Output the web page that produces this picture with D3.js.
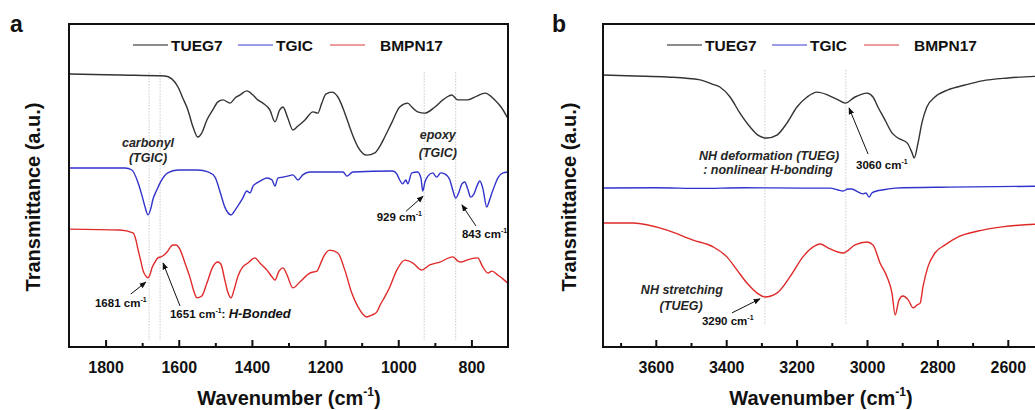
<!DOCTYPE html>
<html><head><meta charset="utf-8">
<script src="https://cdn.jsdelivr.net/npm/d3@7"></script>
<style>
body{margin:0;background:#fff;}
svg{display:block;font-family:"Liberation Sans",Arial,sans-serif;}
</style></head>
<body><svg id="c" width="1035" height="410"></svg>
<script>
// ---------- DATA ----------
const seriesNames = ["TUEG7", "TGIC", "BMPN17"];
const ticksA = [1800, 1600, 1400, 1200, 1000, 800];
const minorA = [1700, 1500, 1300, 1100, 900];
const ticksB = [3600, 3400, 3200, 3000, 2800, 2600];
const minorB = [3700, 3500, 3300, 3100, 2900, 2700];
const refLinesA = [1681, 1651, 929, 843];
const refLinesB = [3290, 3060];

// Panel a: [wavenumber, transmittance (a.u.)]
const tueg7A = [[1900,84.5],[1761,84.2],[1638,83.9],[1619,83.0],[1602,80.5],[1589,77.1],[1575,73.4],[1561,68.1],[1548,65.0],[1537,66.3],[1523,70.3],[1507,73.4],[1493,75.9],[1479,76.5],[1460,75.5],[1446,77.1],[1433,78.0],[1414,79.3],[1397,78.0],[1384,76.5],[1370,75.5],[1351,73.4],[1337,69.7],[1324,73.4],[1315,74.3],[1302,70.9],[1288,67.2],[1274,68.4],[1255,70.3],[1233,72.8],[1220,72.4],[1209,75.5],[1198,78.3],[1181,78.9],[1165,77.4],[1146,72.4],[1127,66.3],[1110,61.9],[1086,59.4],[1064,60.1],[1050,62.2],[1037,65.0],[1018,69.4],[996,74.3],[974,75.5],[963,74.3],[947,72.8],[927,72.4],[900,74.3],[878,76.5],[867,77.4],[854,78.0],[837,76.5],[810,76.5],[785,77.7],[763,78.6],[736,76.5],[717,74.0],[701,70.9]];
const tgicA = [[1900,55.4],[1747,55.4],[1728,54.8],[1711,50.8],[1701,47.1],[1692,43.3],[1684,40.9],[1676,43.0],[1671,45.5],[1660,48.6],[1651,50.8],[1630,53.9],[1602,54.8],[1548,54.8],[1520,54.2],[1501,52.6],[1487,48.0],[1474,43.3],[1457,40.9],[1446,42.4],[1433,44.6],[1425,46.1],[1414,48.3],[1405,47.7],[1397,49.8],[1386,50.8],[1373,51.7],[1359,52.3],[1345,51.7],[1337,49.8],[1329,52.3],[1315,52.6],[1302,52.9],[1288,53.3],[1274,51.7],[1261,53.3],[1242,54.2],[1151,54.2],[1140,52.9],[1124,54.2],[1015,54.5],[1004,53.6],[996,51.7],[988,50.5],[979,51.7],[974,50.5],[963,53.9],[947,54.2],[938,52.3],[933,48.3],[927,51.1],[919,52.9],[906,53.9],[895,52.6],[884,53.9],[873,53.6],[859,51.7],[851,48.6],[843,46.1],[834,48.0],[826,50.5],[818,51.1],[810,48.9],[802,46.4],[793,47.4],[785,49.8],[777,51.4],[769,49.2],[758,43.3],[753,44.6],[747,46.7],[739,49.2],[728,52.3],[714,53.9],[701,54.2]];
const bmpn17A = [[1900,36.5],[1761,36.2],[1725,35.3],[1717,33.1],[1711,30.0],[1703,26.3],[1698,23.8],[1690,22.0],[1684,21.4],[1679,22.3],[1673,24.5],[1665,26.3],[1657,27.6],[1649,27.9],[1640,28.5],[1632,29.4],[1616,31.6],[1607,31.6],[1597,30.3],[1583,26.0],[1569,21.4],[1558,17.0],[1550,15.2],[1537,15.8],[1523,19.8],[1507,24.8],[1493,26.3],[1485,25.7],[1474,20.7],[1466,17.0],[1457,15.2],[1449,17.6],[1438,22.0],[1425,24.8],[1411,26.0],[1392,27.6],[1378,26.0],[1359,23.8],[1345,21.7],[1337,20.7],[1326,23.5],[1315,24.5],[1304,22.3],[1288,18.3],[1269,20.1],[1242,22.9],[1222,23.5],[1214,25.4],[1203,28.2],[1187,30.0],[1165,29.1],[1146,23.8],[1127,16.7],[1110,12.4],[1086,9.3],[1072,9.9],[1059,10.8],[1048,13.3],[1037,15.5],[1023,18.6],[1004,23.8],[982,26.9],[960,26.0],[936,23.8],[914,25.4],[886,26.3],[851,27.9],[837,26.6],[826,26.3],[813,26.9],[783,27.6],[769,24.8],[755,22.9],[744,23.5],[728,22.3],[714,21.1],[701,19.8]];

// Panel b
const tueg7B = [[3750,84.2],[3659,83.9],[3568,83.6],[3474,82.7],[3440,81.4],[3418,80.5],[3389,77.4],[3361,72.4],[3332,68.1],[3310,65.6],[3284,64.7],[3256,65.6],[3227,69.4],[3199,74.3],[3170,77.4],[3142,78.9],[3111,78.0],[3082,76.5],[3062,75.5],[3034,77.4],[3000,78.6],[2983,77.4],[2969,74.3],[2949,70.3],[2929,66.3],[2912,64.7],[2886,63.2],[2872,60.1],[2866,58.5],[2855,63.2],[2844,69.4],[2830,74.3],[2807,77.4],[2770,79.6],[2722,81.1],[2673,82.4],[2599,83.3],[2500,83.9]];
const tgicB = [[3750,49.2],[3600,49.3],[3474,49.1],[3350,49.3],[3190,49.2],[3105,49.2],[3082,48.6],[3068,48.3],[3054,48.9],[3043,48.9],[3026,48.0],[3011,47.4],[3003,47.7],[2994,46.4],[2986,47.7],[2972,48.3],[2957,48.6],[2920,49.2],[2764,49.5],[2500,49.8]];
const bmpn17B = [[3750,38.4],[3665,38.4],[3568,36.2],[3494,33.1],[3437,31.0],[3398,27.9],[3369,23.8],[3341,19.8],[3312,16.7],[3290,15.5],[3256,16.7],[3219,21.7],[3182,27.9],[3153,31.0],[3133,31.9],[3111,30.7],[3068,29.1],[3034,31.6],[3000,32.5],[2983,31.6],[2963,26.0],[2943,21.7],[2929,16.7],[2920,9.9],[2909,14.6],[2898,15.8],[2883,14.6],[2869,12.1],[2858,13.0],[2849,13.6],[2841,18.6],[2827,24.8],[2807,29.1],[2778,31.6],[2741,34.1],[2685,35.9],[2616,37.2],[2500,38.1]];

// ---------- LAYOUT ----------
const svg = d3.select("#c");
svg.append("rect").attr("width",1035).attr("height",410).attr("fill","#fff");
const colors = ["#333333", "#3333cc", "#e02a2a"];
const legendColors = ["#666666", "#7a7ae0", "#e87a7a"];
const y = d3.scaleLinear().domain([0,100]).range([347,24]);

svg.append("defs").append("marker").attr("id","ah")
  .attr("viewBox","0 0 10 10").attr("refX",9).attr("refY",5)
  .attr("markerWidth",7).attr("markerHeight",7).attr("orient","auto-start-reverse")
  .append("path").attr("d","M0,1 L10,5 L0,9 Z").attr("fill","#111");

function panel(opt){
  const x = d3.scaleLinear().domain(opt.domain).range(opt.range);
  const g = svg.append("g");
  const [x0,x1] = opt.range;
  opt.refs.forEach(r=>{
    g.append("line").attr("x1",x(r)).attr("x2",x(r))
      .attr("y1",y(opt.refTop)).attr("y2",y(opt.refBot))
      .attr("stroke","#bbb").attr("stroke-width",0.8).attr("stroke-dasharray","1.5,1.5");
  });
  const line = d3.line().x(d=>x(d[0])).y(d=>y(d[1])).curve(d3.curveMonotoneX);
  opt.series.forEach((s,i)=>{
    g.append("path").datum(s).attr("d",line).attr("fill","none")
      .attr("stroke",colors[i]).attr("stroke-width",1.4).attr("stroke-linejoin","round");
  });
  g.append("rect").attr("x",x0).attr("y",y(100)).attr("width",x1-x0).attr("height",y(0)-y(100))
    .attr("fill","none").attr("stroke","#111").attr("stroke-width",2);
  const ax = g.append("g").attr("transform",`translate(0,${y(0)})`)
    .call(d3.axisBottom(x).tickValues(opt.ticks).tickSize(-7).tickPadding(15).tickFormat(d3.format("d")));
  ax.select(".domain").remove();
  ax.selectAll(".tick line").attr("stroke","#111").attr("stroke-width",2);
  ax.selectAll(".tick text").attr("font-size",16).attr("font-weight","bold").attr("fill","#111")
    .attr("font-family","Liberation Sans, Arial, sans-serif");
  const mx = g.append("g").attr("transform",`translate(0,${y(0)})`)
    .call(d3.axisBottom(x).tickValues(opt.minor).tickSize(-4).tickFormat(""));
  mx.select(".domain").remove();
  mx.selectAll(".tick line").attr("stroke","#111").attr("stroke-width",2);
  const xt = g.append("text").attr("x",x0 + 220 + opt.titleShift).attr("y",405)
    .attr("text-anchor","middle").attr("font-size",20).attr("font-weight","bold").attr("fill","#111");
  xt.append("tspan").text("Wavenumber (cm");
  xt.append("tspan").text("-1").attr("font-size",12).attr("dy",-9);
  xt.append("tspan").text(")").attr("dy",9);
  g.append("text").attr("transform",`translate(${opt.yTitleX},197) rotate(-90)`)
    .attr("text-anchor","middle").attr("font-size",20).attr("font-weight","bold").attr("fill","#111")
    .text("Transmittance (a.u.)");
  g.append("text").attr("x",opt.labelX).attr("y",32).attr("font-size",23).attr("font-weight","bold")
    .attr("fill","#111").text(opt.label);
  const legX = [64, 169, 261], txtX = [102, 207, 311];
  seriesNames.forEach((n,i)=>{
    g.append("line").attr("x1",x0+legX[i]).attr("x2",x0+legX[i]+35).attr("y1",45).attr("y2",45)
      .attr("stroke",legendColors[i]).attr("stroke-width",1.6);
    g.append("text").attr("x",x0+txtX[i]).attr("y",50.5).attr("font-size",15.5).attr("font-weight","bold")
      .attr("fill","#111").text(n);
  });
  opt.notes.forEach(n=>{
    const t = g.append("text").attr("x",x(n.at[0])).attr("y",y(n.at[1]))
      .attr("text-anchor",n.anchor||"start").attr("fill",n.italic?"#262626":"#111")
      .attr("font-size",n.size).attr("font-weight","bold")
      .attr("font-style",n.italic?"italic":"normal");
    n.parts.forEach(p=>{
      const ts = t.append("tspan").text(p.t);
      if(p.sup){ ts.attr("font-size",7).attr("dy",-5); }
      if(p.down){ ts.attr("dy",5); }
      if(p.it){ ts.attr("font-style","italic").attr("font-size",13); }
    });
  });
  opt.arrows.forEach(a=>{
    const tx = x(a.tip[0]), ty = y(a.tip[1]);
    g.append("line").attr("x1",tx+a.tail[0]).attr("y1",ty+a.tail[1]).attr("x2",tx).attr("y2",ty)
      .attr("stroke","#111").attr("stroke-width",1).attr("marker-end","url(#ah)");
  });
}

const cm = (num, extra)=>{
  const p = [{t:num+" cm"},{t:"-1",sup:true}];
  if(extra){ p.push({t:extra.a,down:true}); p.push({t:extra.b,it:true}); }
  return p;
};

panel({
  domain:[1900,700], range:[69,508], ticks:ticksA, minor:minorA, refs:refLinesA, refTop:85.1, refBot:2.2,
  series:[tueg7A,tgicA,bmpn17A], label:"a", labelX:10, yTitleX:40, titleShift:0,
  notes:[
    {at:[1684,61.9], anchor:"middle", size:12.5, italic:true, parts:[{t:"carbonyl"}]},
    {at:[1684,57.3], anchor:"middle", size:12.5, italic:true, parts:[{t:"(TGIC)"}]},
    {at:[892,64.4], anchor:"middle", size:12.5, italic:true, parts:[{t:"epoxy"}]},
    {at:[892,58.8], anchor:"middle", size:12.5, italic:true, parts:[{t:"(TGIC)"}]},
    {at:[1059,39.0], size:11.5, parts:cm(929)},
    {at:[826,33.7], size:11.5, parts:cm(843)},
    {at:[1829,12.4], size:11.5, parts:cm(1681)},
    {at:[1624,9.0], size:11.5, parts:cm(1651,{a:": ",b:"H-Bonded"})}
  ],
  arrows:[
    {tip:[932,46.7], tail:[-17,15]},
    {tip:[826,44.0], tail:[14,21]},
    {tip:[1690,20.1], tail:[-15,12]},
    {tip:[1643,26.0], tail:[17,43]}
  ]
});

panel({
  domain:[3750,2500], range:[603,1043], ticks:ticksB, minor:minorB, refs:refLinesB, refTop:85.8, refBot:6.8,
  series:[tueg7B,tgicB,bmpn17B], label:"b", labelX:552, yTitleX:576, titleShift:-2,
  notes:[
    {at:[3278,57.9], anchor:"middle", size:12.5, italic:true, parts:[{t:"NH deformation (TUEG)"}]},
    {at:[3281,53.6], anchor:"middle", size:12.5, italic:true, parts:[{t:": nonlinear H-bonding"}]},
    {at:[3031,55.1], size:11.5, parts:cm(3060)},
    {at:[3526,16.4], anchor:"middle", size:12.5, italic:true, parts:[{t:"NH stretching"}]},
    {at:[3528,11.5], anchor:"middle", size:12.5, italic:true, parts:[{t:"(TUEG)"}]},
    {at:[3469,6.8], size:11.5, parts:cm(3290)}
  ],
  arrows:[
    {tip:[3051,74.0], tail:[19,46]},
    {tip:[3304,14.9], tail:[-28,14]}
  ]
});
</script></body></html>
